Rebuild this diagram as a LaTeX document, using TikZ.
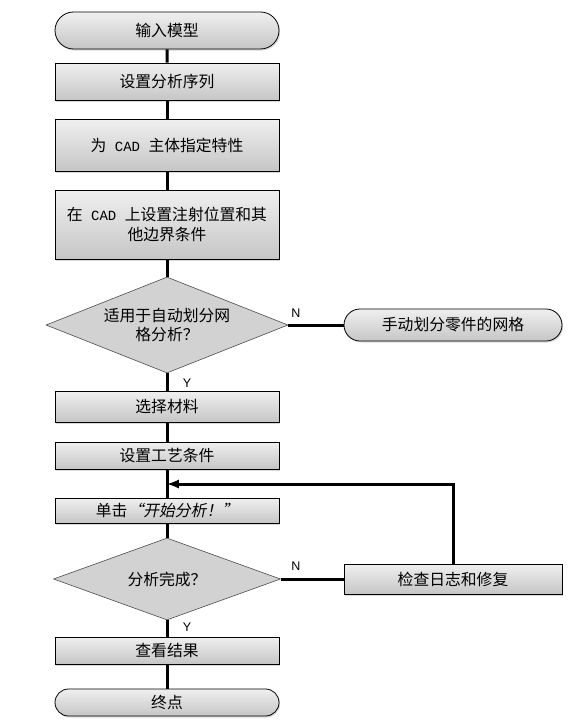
\documentclass[tikz,border=0pt]{standalone}
\usepackage{fontspec}
\setmainfont{Noto Sans CJK SC}
\newfontfamily\ynfont{Liberation Sans}
\newfontfamily\cadfont{Liberation Mono}
\newfontfamily\slantfont[FakeSlant=0.2]{Noto Sans CJK SC}
\newcommand{\cadword}{{\cadfont\fontsize{14}{19.5}\selectfont\ CAD\ }}
\usetikzlibrary{shapes.geometric, shapes.misc, shadows}

\tikzset{
  flowbase/.style={draw=black, line width=0.8pt, top color=gray!12, bottom color=gray!45,
    drop shadow={shadow xshift=1.2pt, shadow yshift=-1.5pt, opacity=0.3},
    inner sep=0pt, align=center, font=\fontsize{15.8}{19.5}\selectfont},
  procbox/.style={flowbase, rectangle, minimum width=224pt},
  termbox/.style={flowbase, rounded rectangle, minimum width=224pt},
  decision/.style={diamond, draw=gray!60!black, line width=0.6pt, fill=gray!35, aspect=2.5,
    inner sep=0pt, align=center, font=\fontsize{15.8}{19.5}\selectfont},
  flow/.style={line width=3pt, black},
  yn/.style={font=\ynfont\fontsize{12.5}{12.5}\selectfont}
}

\begin{document}
\begin{tikzpicture}[x=1pt, y=-1pt]
	\useasboundingbox (0,0) rectangle (583,728);
	
	% main column
	\node[termbox, minimum height=37pt] (start) at (167,30.5) {输入模型};
	\node[procbox, minimum height=37pt] (seq) at (167,81.5) {设置分析序列};
	\node[procbox, minimum height=52pt] (prop) at (167,145) {为\cadword 主体指定特性};
	\node[procbox, minimum height=69pt] (bc) at (167,224.5) {在\cadword 上设置注射位置和其\\他边界条件};
	\node[decision, minimum width=242pt, minimum height=96pt] (automesh) at (167,325) {适用于自动划分网\\格分析？};
	\node[procbox, minimum height=31pt] (mat) at (167,406.5) {选择材料};
	\node[procbox, minimum height=27pt] (proc) at (167,455.5) {设置工艺条件};
	\node[procbox, minimum height=25pt] (run) at (167,510.5) {单击{\slantfont“开始分析！”}};
	\node[decision, minimum width=227pt, minimum height=82pt] (done) at (167,579) {分析完成？};
	\node[procbox, minimum height=27pt] (res) at (167,650.5) {查看结果};
	\node[termbox, minimum height=27pt] (stop) at (167,702.5) {终点};
	
	% right column
	\node[termbox, minimum width=218pt, minimum height=32pt] (manual) at (453,325) {手动划分零件的网格};
	\node[procbox, minimum width=218pt, minimum height=30pt] (fix) at (453,579) {检查日志和修复};
	
	% connectors
	\draw[flow] (start) -- (seq);
	\draw[flow] (seq) -- (prop);
	\draw[flow] (prop) -- (bc);
	\draw[flow] (bc) -- (automesh);
	\draw[flow] (automesh) -- (mat);
	\draw[flow] (mat) -- (proc);
	\draw[flow] (proc) -- (run);
	\draw[flow] (run) -- (done);
	\draw[flow] (done) -- (res);
	\draw[flow] (res) -- (stop);
	\draw[flow] (automesh.east) -- (manual.west);
	\draw[flow] (done.east) -- (fix.west);
	
	% loop back
	\coordinate (loopin) at (167,484);
	\draw[flow, -latex] (fix.north) |- (loopin);
	
	% Y / N
	\node[yn] (n1) at (296,313) {N};
	\node[yn] (y1) at (187,383) {Y};
	\node[yn] (n2) at (296,566) {N};
	\node[yn] (y2) at (187,627) {Y};
\end{tikzpicture}
\end{document}
